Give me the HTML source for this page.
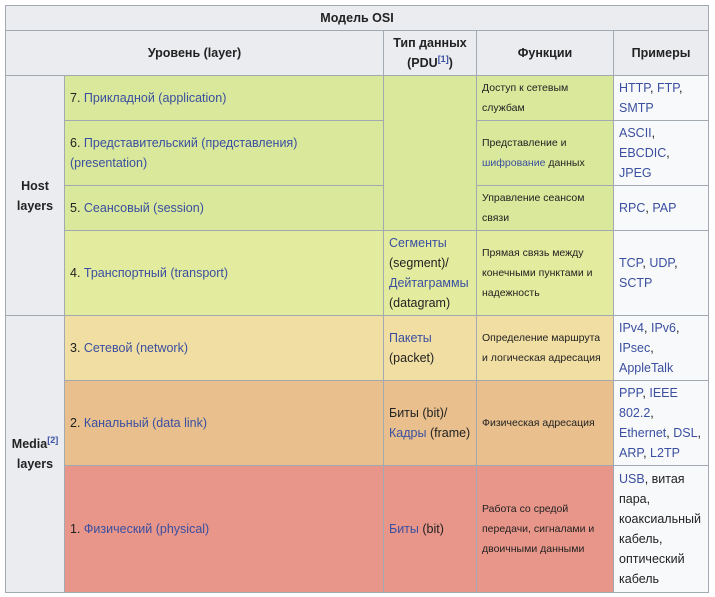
<!DOCTYPE html>
<html><head><meta charset="utf-8"><style>
body{margin:0;background:#fff;font-family:"Liberation Sans","DejaVu Sans",sans-serif;color:#222;}
.c{position:absolute;box-sizing:border-box;border:1px solid #a2a9b1;display:flex;align-items:center;font-size:12.5px;line-height:20px;padding:0 5px;overflow:hidden;}
.c>div{width:100%}
.h{background:#eaecf0;font-weight:bold;text-align:center;}
.g{background:#d9e89b}.g2{background:#e3ec9e}.y{background:#f1dea2}.o{background:#e9c08d}.r{background:#e8968a}.w{background:#f8f9fa}
.s{font-size:10.5px;}
a{color:#3a4fa0;text-decoration:none}
sup{font-size:9px;line-height:0;vertical-align:super}
</style></head><body>
<div class="c h" style="left:5px;top:5px;width:704px;height:26px"><div>Модель OSI</div></div>
<div class="c h" style="left:5px;top:30px;width:379px;height:46px"><div>Уровень (layer)</div></div>
<div class="c h" style="left:383px;top:30px;width:94px;height:46px;padding:0 2px"><div>Тип данных<br>(PDU<sup><a>[1]</a></sup>)</div></div>
<div class="c h" style="left:476px;top:30px;width:138px;height:46px"><div>Функции</div></div>
<div class="c h" style="left:613px;top:30px;width:96px;height:46px"><div>Примеры</div></div>

<div class="c h" style="left:5px;top:75px;width:60px;height:241px;padding:0"><div>Host<br>layers</div></div>
<div class="c h" style="left:5px;top:315px;width:60px;height:278px;padding:0"><div>Media<sup><a>[2]</a></sup><br>layers</div></div>

<div class="c g" style="left:64px;top:75px;width:320px;height:46px"><div>7.&nbsp;<a>Прикладной (application)</a></div></div>
<div class="c g" style="left:64px;top:120px;width:320px;height:66px"><div>6.&nbsp;<a>Представительский (представления)<br>(presentation)</a></div></div>
<div class="c g" style="left:64px;top:185px;width:320px;height:46px"><div>5.&nbsp;<a>Сеансовый (session)</a></div></div>
<div class="c g2" style="left:64px;top:230px;width:320px;height:86px"><div>4.&nbsp;<a>Транспортный (transport)</a></div></div>
<div class="c y" style="left:64px;top:315px;width:320px;height:66px"><div>3.&nbsp;<a>Сетевой (network)</a></div></div>
<div class="c o" style="left:64px;top:380px;width:320px;height:86px"><div>2.&nbsp;<a>Канальный (data link)</a></div></div>
<div class="c r" style="left:64px;top:465px;width:320px;height:128px"><div>1.&nbsp;<a>Физический (physical)</a></div></div>

<div class="c g" style="left:383px;top:75px;width:94px;height:156px"></div>
<div class="c g2" style="left:383px;top:230px;width:94px;height:86px"><div><a>Сегменты</a><br>(segment)/<br><a>Дейтаграммы</a><br>(datagram)</div></div>
<div class="c y" style="left:383px;top:315px;width:94px;height:66px"><div><a>Пакеты</a><br>(packet)</div></div>
<div class="c o" style="left:383px;top:380px;width:94px;height:86px"><div>Биты (bit)/<br><a>Кадры</a> (frame)</div></div>
<div class="c r" style="left:383px;top:465px;width:94px;height:128px"><div><a>Биты</a> (bit)</div></div>

<div class="c g s" style="left:476px;top:75px;width:138px;height:46px"><div>Доступ к сетевым<br>службам</div></div>
<div class="c g s" style="left:476px;top:120px;width:138px;height:66px"><div>Представление и<br><a>шифрование</a> данных</div></div>
<div class="c g s" style="left:476px;top:185px;width:138px;height:46px"><div>Управление сеансом<br>связи</div></div>
<div class="c g2 s" style="left:476px;top:230px;width:138px;height:86px"><div>Прямая связь между<br>конечными пунктами и<br>надежность</div></div>
<div class="c y s" style="left:476px;top:315px;width:138px;height:66px"><div>Определение маршрута<br>и логическая адресация</div></div>
<div class="c o s" style="left:476px;top:380px;width:138px;height:86px"><div>Физическая адресация</div></div>
<div class="c r s" style="left:476px;top:465px;width:138px;height:128px"><div>Работа со средой<br>передачи, сигналами и<br>двоичными данными</div></div>

<div class="c w" style="left:613px;top:75px;width:96px;height:46px"><div><a>HTTP</a>, <a>FTP</a>,<br><a>SMTP</a></div></div>
<div class="c w" style="left:613px;top:120px;width:96px;height:66px"><div><a>ASCII</a>,<br><a>EBCDIC</a>,<br><a>JPEG</a></div></div>
<div class="c w" style="left:613px;top:185px;width:96px;height:46px"><div><a>RPC</a>, <a>PAP</a></div></div>
<div class="c w" style="left:613px;top:230px;width:96px;height:86px"><div><a>TCP</a>, <a>UDP</a>,<br><a>SCTP</a></div></div>
<div class="c w" style="left:613px;top:315px;width:96px;height:66px"><div><a>IPv4</a>, <a>IPv6</a>,<br><a>IPsec</a>,<br><a>AppleTalk</a></div></div>
<div class="c w" style="left:613px;top:380px;width:96px;height:86px"><div><a>PPP</a>, <a>IEEE</a><br><a>802.2</a>,<br><a>Ethernet</a>, <a>DSL</a>,<br><a>ARP</a>, <a>L2TP</a></div></div>
<div class="c w" style="left:613px;top:465px;width:96px;height:128px"><div><a>USB</a>, витая<br>пара,<br>коаксиальный<br>кабель,<br>оптический<br>кабель</div></div>
</body></html>
